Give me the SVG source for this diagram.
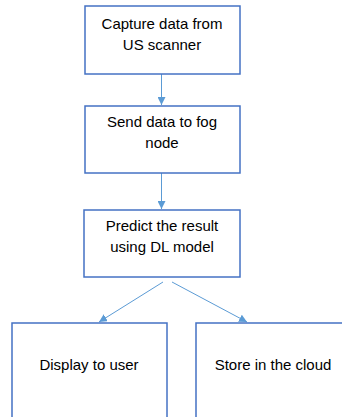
<svg xmlns="http://www.w3.org/2000/svg" width="342" height="417" viewBox="0 0 342 417">
<style>
.box{fill:#fff;stroke:#4472C4;stroke-width:1.5}
.t{font-family:"Liberation Sans",Arial,sans-serif;font-size:15px;fill:#000;text-anchor:middle}
.c{stroke:#5B9BD5;stroke-width:1;fill:none;marker-end:url(#ah)}
</style>
<defs>
<marker id="ah" viewBox="0 0 10 10" refX="10" refY="5" markerWidth="8" markerHeight="8" markerUnits="userSpaceOnUse" orient="auto">
<path d="M0,0 L10,5 L0,10 Z" fill="#5B9BD5"/>
</marker>
</defs>
<rect width="342" height="417" fill="#fff"/>
<g id="connectors">
<line class="c" x1="161.5" y1="74" x2="161.5" y2="105"/>
<line class="c" x1="161.5" y1="173" x2="161.5" y2="209"/>
<line class="c" x1="163" y1="282" x2="99" y2="322"/>
<line class="c" x1="172" y1="282" x2="247" y2="322"/>
</g>
<g id="n1">
<rect class="box" x="85" y="6" width="155" height="68"/>
<text class="t" x="162" y="29">Capture data from</text>
<text class="t" x="162" y="50">US scanner</text>
</g>
<g id="n2">
<rect class="box" x="85" y="106" width="155" height="67"/>
<text class="t" x="162" y="127">Send data to fog</text>
<text class="t" x="162" y="148">node</text>
</g>
<g id="n3">
<rect class="box" x="84" y="210" width="156" height="67"/>
<text class="t" x="162" y="231">Predict the result</text>
<text class="t" x="162" y="252">using DL model</text>
</g>
<g id="n4">
<rect class="box" x="12" y="323" width="155" height="100"/>
<text class="t" x="89" y="370">Display to user</text>
</g>
<g id="n5">
<rect class="box" x="196" y="323" width="155" height="100"/>
<text class="t" x="273" y="370">Store in the cloud</text>
</g>
</svg>
